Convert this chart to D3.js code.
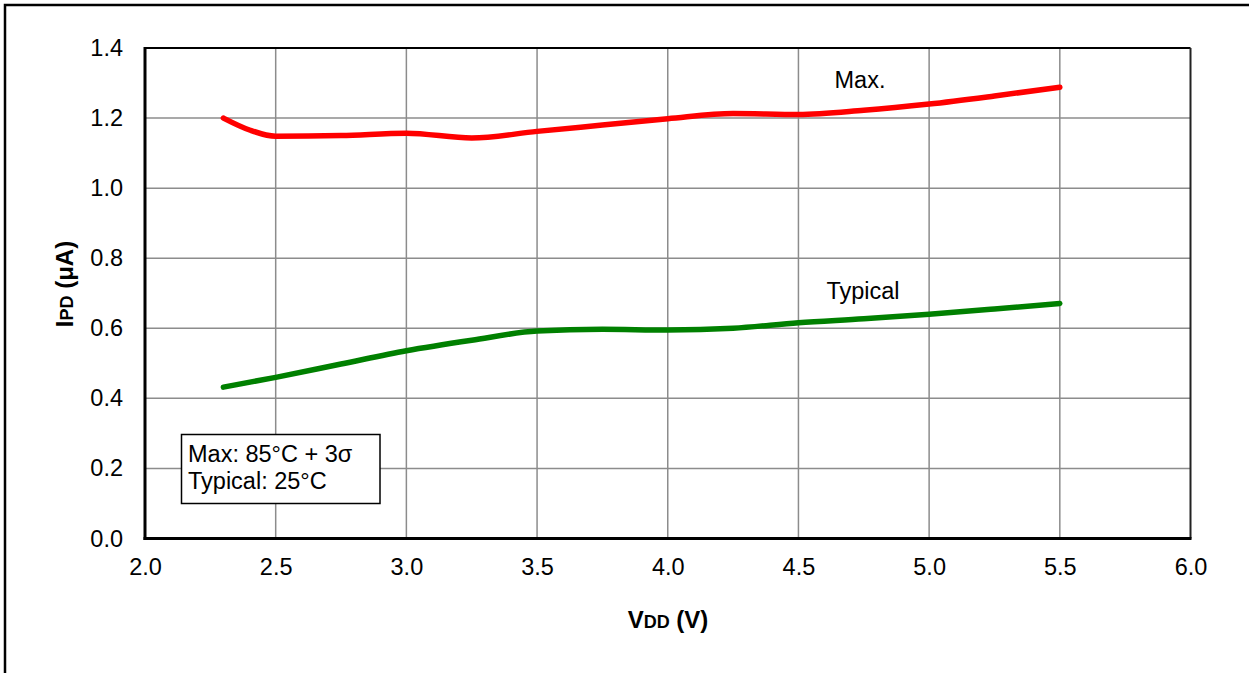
<!DOCTYPE html>
<html><head><meta charset="utf-8">
<script src="https://cdn.jsdelivr.net/npm/d3@7"></script>
<style>body{margin:0;background:#fff;}svg{display:block;font-family:Arial,"Liberation Sans",sans-serif;}</style>
</head><body>
<svg id="chart" width="1249" height="673"></svg>
<script>
const xTicks = [2.0, 2.5, 3.0, 3.5, 4.0, 4.5, 5.0, 5.5, 6.0];
const yTicks = [0.0, 0.2, 0.4, 0.6, 0.8, 1.0, 1.2, 1.4];
const vdd = [2.3, 2.4, 2.5, 2.75, 3.0, 3.25, 3.5, 3.75, 4.0, 4.25, 4.5, 4.75, 5.0, 5.25, 5.5];
const maxVals = [1.20, 1.166, 1.148, 1.150, 1.157, 1.143, 1.162, 1.180, 1.198, 1.213, 1.210, 1.222, 1.240, 1.263, 1.288];
const vddTyp = [2.3, 2.5, 2.75, 3.0, 3.25, 3.5, 3.75, 4.0, 4.25, 4.5, 4.75, 5.0, 5.25, 5.5];
const typVals = [0.432, 0.460, 0.498, 0.536, 0.566, 0.592, 0.597, 0.595, 0.600, 0.616, 0.627, 0.640, 0.655, 0.671];

const svg = d3.select("#chart");
const L = 145, R = 1190.5, T = 48, B = 538.5;
const x = d3.scaleLinear().domain([2, 6]).range([L, R]);
const y = d3.scaleLinear().domain([0, 1.4]).range([B, T]);
const FS = 23.5;

// outer frame (extends past the picture on right and bottom)
svg.append("rect").attr("x", 5).attr("y", 5).attr("width", 1300).attr("height", 1300)
  .attr("fill", "none").attr("stroke", "#000").attr("stroke-width", 2.5);

// grid
svg.append("g").selectAll("line").data(xTicks.slice(1, -1)).join("line")
  .attr("x1", d => x(d)).attr("x2", d => x(d)).attr("y1", T).attr("y2", B)
  .attr("stroke", "#8c8c8c").attr("stroke-width", 1.5);
svg.append("g").selectAll("line").data(yTicks.slice(1, -1)).join("line")
  .attr("x1", L).attr("x2", R).attr("y1", d => y(d)).attr("y2", d => y(d))
  .attr("stroke", "#8c8c8c").attr("stroke-width", 1.5);

// plot border
svg.append("line").attr("x1", L).attr("x2", R).attr("y1", T).attr("y2", T).attr("stroke", "#000").attr("stroke-width", 2);
svg.append("line").attr("x1", R).attr("x2", R).attr("y1", T).attr("y2", B).attr("stroke", "#222").attr("stroke-width", 2);
svg.append("line").attr("x1", L).attr("x2", L).attr("y1", T - 1).attr("y2", B + 1.5).attr("stroke", "#000").attr("stroke-width", 3);
svg.append("line").attr("x1", L - 1.5).attr("x2", R + 1).attr("y1", B).attr("y2", B).attr("stroke", "#000").attr("stroke-width", 3);

// tick labels via axes
const xAxis = svg.append("g").attr("transform", `translate(0,${B})`)
  .call(d3.axisBottom(x).tickValues(xTicks).tickFormat(d3.format(".1f")).tickSize(0).tickPadding(20));
const yAxis = svg.append("g").attr("transform", `translate(${L},0)`)
  .call(d3.axisLeft(y).tickValues(yTicks).tickFormat(d3.format(".1f")).tickSize(0).tickPadding(22));
[xAxis, yAxis].forEach(a => {
  a.select(".domain").remove();
  a.selectAll("text").attr("font-size", FS).attr("fill", "#000").attr("font-family", "Arial, 'Liberation Sans', sans-serif");
});

// lines
const line = d3.line().curve(d3.curveMonotoneX);
svg.append("path").attr("d", line(vdd.map((v, i) => [x(v), y(maxVals[i])])))
  .attr("fill", "none").attr("stroke", "#ff0000").attr("stroke-width", 5.5).attr("stroke-linecap", "round");
svg.append("path").attr("d", line(vddTyp.map((v, i) => [x(v), y(typVals[i])])))
  .attr("fill", "none").attr("stroke", "#008000").attr("stroke-width", 5.5).attr("stroke-linecap", "round");

// series labels
svg.append("text").attr("x", 860).attr("y", 88).attr("text-anchor", "middle").attr("font-size", FS).text("Max.");
svg.append("text").attr("x", 863).attr("y", 298.5).attr("text-anchor", "middle").attr("font-size", FS).text("Typical");

// note box
svg.append("rect").attr("x", 181.5).attr("y", 434.5).attr("width", 198.5).attr("height", 69)
  .attr("fill", "#fff").attr("stroke", "#000").attr("stroke-width", 1.5);
svg.append("text").attr("x", 188).attr("y", 462).attr("font-size", FS).text("Max: 85°C + 3σ");
svg.append("text").attr("x", 188).attr("y", 489).attr("font-size", FS).text("Typical: 25°C");

// axis titles
const yt = svg.append("text").attr("transform", "translate(73,284) rotate(-90)")
  .attr("text-anchor", "middle").attr("font-size", 24).attr("font-weight", "bold");
yt.append("tspan").text("I");
yt.append("tspan").attr("font-size", 18).text("PD");
yt.append("tspan").text(" (μA)");

const xt = svg.append("text").attr("x", 668).attr("y", 628)
  .attr("text-anchor", "middle").attr("font-size", 24).attr("font-weight", "bold");
xt.append("tspan").text("V");
xt.append("tspan").attr("font-size", 18).text("DD");
xt.append("tspan").text(" (V)");
</script>
</body></html>
